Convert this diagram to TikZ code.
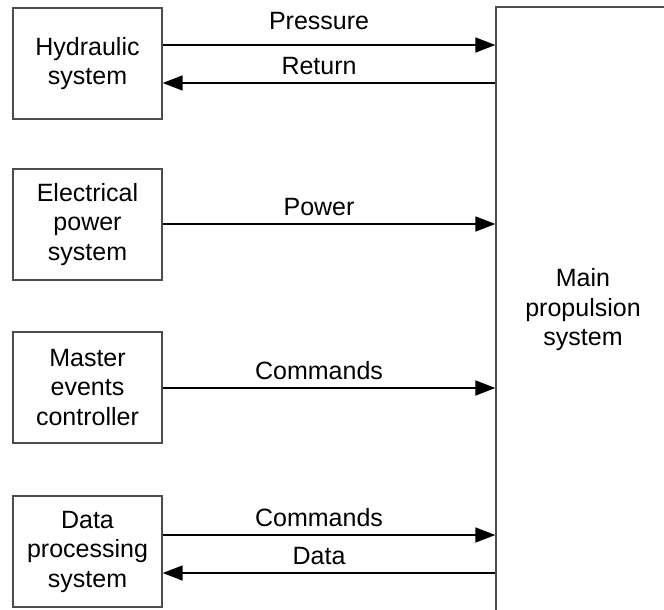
\documentclass[tikz,border=0pt]{standalone}
\usepackage{fontspec}
\setmainfont{Liberation Sans}
\usetikzlibrary{arrows.meta,positioning}

\begin{document}
\begin{tikzpicture}[x=1pt,y=-1pt,>={Triangle[length=20pt,width=15pt]},
    font=\fontsize{25}{29.5}\selectfont]
    \tikzstyle{block}=[draw=black!70, line width=1.4pt, minimum width=149pt,
      minimum height=111pt, align=center, inner sep=0pt]
    \tikzstyle{flow}=[->, line width=1.8pt]
    \tikzstyle{lab}=[above=4pt, inner sep=3pt]

    \useasboundingbox (0,0) rectangle (664,610);

    \node[block] (hyd) at (87.5,63.5) {Hydraulic\\system};
    \node[block] (eps) at (87.5,224.5) {Electrical\\power\\system};
    \node[block] (mec) at (87.5,387.5) {Master\\events\\controller};
    \node[block] (dps) at (87.5,551.5) {Data\\processing\\system};
    \node[block, minimum width=174pt, minimum height=606pt] (mps) at (583,310)
      {Main\\propulsion\\system};

    \draw[flow] (hyd.east |- 0,45) -- node[lab, above=11pt, pos=0.47] {Pressure} (mps.west |- 0,45);
    \draw[flow] (mps.west |- 0,83) -- node[lab, pos=0.53] {Return} (hyd.east |- 0,83);
    \draw[flow] (eps.east |- 0,224) -- node[lab, pos=0.47] {Power} (mps.west |- 0,224);
    \draw[flow] (mec.east |- 0,388) -- node[lab, pos=0.47] {Commands} (mps.west |- 0,388);
    \draw[flow] (dps.east |- 0,535) -- node[lab, pos=0.47] {Commands} (mps.west |- 0,535);
    \draw[flow] (mps.west |- 0,573) -- node[lab, pos=0.53] {Data} (dps.east |- 0,573);
\end{tikzpicture}
\end{document}
